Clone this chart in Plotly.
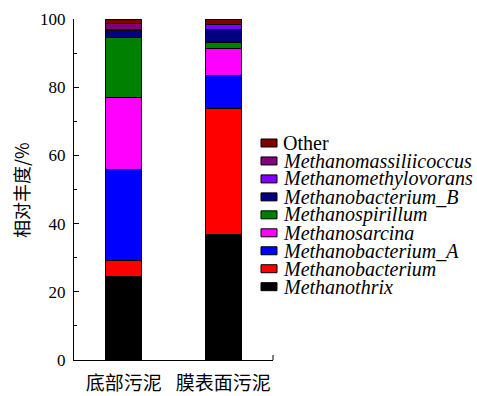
import plotly.graph_objects as go

# Sludge samples and genus-level relative abundance (%), stacked bottom to top
samples = ["底部污泥", "膜表面污泥"]
genera = [
    "Methanothrix",
    "Methanobacterium",
    "Methanobacterium_A",
    "Methanosarcina",
    "Methanospirillum",
    "Methanobacterium_B",
    "Methanomethylovorans",
    "Methanomassiliicoccus",
    "Other",
]
methanothrix = [24.5, 36.9]
methanobacterium = [4.7, 36.9]
methanobacterium_a = [26.8, 9.7]
methanosarcina = [21.0, 7.8]
methanospirillum = [17.5, 1.8]
methanobacterium_b = [2.1, 3.9]
methanomethylovorans = [0.4, 1.3]
methanomassiliicoccus = [1.8, 0.1]
other = [1.2, 1.6]
y_title = "相对丰度/%"

values = [
    methanothrix, methanobacterium, methanobacterium_a, methanosarcina,
    methanospirillum, methanobacterium_b, methanomethylovorans,
    methanomassiliicoccus, other,
]
colors = [
    "#000000", "#FF0000", "#0000FF", "#FF00FF", "#008000",
    "#000080", "#8000FF", "#800080", "#800000",
]

W, H = 477, 396
ML, MR, MT, MB = 74, 204, 19, 36
PW, PH = W - ML - MR, H - MT - MB

SERIF = "Liberation Serif, Times New Roman, serif"
CJK = "Noto Sans CJK SC"

fig = go.Figure()
for name, vals, col in zip(genera, values, colors):
    fig.add_trace(go.Bar(
        x=[0, 1], y=vals, name=name, width=0.36,
        marker=dict(color=col, line=dict(color="#000000", width=1)),
        showlegend=False,
    ))


def px_x(px):
    return (px - ML) / PW


def px_y(py):
    return (MT + PH - py) / PH


# Legend: colour swatches with labels, "Other" at the top
shapes = []
annotations = []
top_c, step = 143.0, 17.96
for i, (name, col) in enumerate(zip(reversed(genera), reversed(colors))):
    cy = top_c + i * step
    shapes.append(dict(
        type="rect", xref="paper", yref="paper",
        x0=px_x(261), x1=px_x(277), y0=px_y(cy - 4), y1=px_y(cy + 4),
        fillcolor=col, line=dict(color="#000000", width=1),
    ))
    label = name if name == "Other" else "<i>" + name + "</i>"
    annotations.append(dict(
        xref="paper", yref="paper", x=px_x(282), y=px_y(cy),
        xanchor="left", yanchor="middle", text=label, showarrow=False,
        font=dict(family=SERIF, size=20, color="#000000"),
        borderpad=0,
    ))

# y-axis title, rotated, left of the tick labels
annotations.append(dict(
    xref="paper", yref="paper", x=px_x(21), y=px_y(190),
    xanchor="center", yanchor="middle", text=y_title, textangle=-90,
    showarrow=False, borderpad=0,
    font=dict(family=CJK, size=18, color="#000000"),
))

# small end tick at the right of the x axis
shapes.append(dict(
    type="line", xref="paper", yref="paper",
    x0=1, x1=1, y0=0, y1=5 / PH, line=dict(color="#000000", width=1),
))

fig.update_layout(
    width=W, height=H,
    margin=dict(l=ML, r=MR, t=MT, b=MB, pad=0),
    barmode="stack",
    plot_bgcolor="#FFFFFF", paper_bgcolor="#FFFFFF",
    showlegend=False,
    shapes=shapes, annotations=annotations,
    xaxis=dict(
        range=[-0.5, 1.5], tickvals=[0, 1], ticktext=samples,
        showline=True, linecolor="#000000", linewidth=1,
        ticks="", showgrid=False, zeroline=False, automargin=False,
        ticklabelstandoff=6,
        tickfont=dict(family=CJK, size=19, color="#000000"),
    ),
    yaxis=dict(
        range=[0, 100], tickvals=[0, 20, 40, 60, 80, 100],
        showline=True, linecolor="#000000", linewidth=1,
        ticks="inside", ticklen=5, tickwidth=1, tickcolor="#000000",
        minor=dict(tickvals=[10, 30, 50, 70, 90], ticks="inside",
                   ticklen=3, tickwidth=1, tickcolor="#000000"),
        showgrid=False, zeroline=False, automargin=False,
        ticklabelstandoff=4,
        tickfont=dict(family=SERIF, size=17, color="#000000"),
    ),
)

fig.write_html("out.html")
